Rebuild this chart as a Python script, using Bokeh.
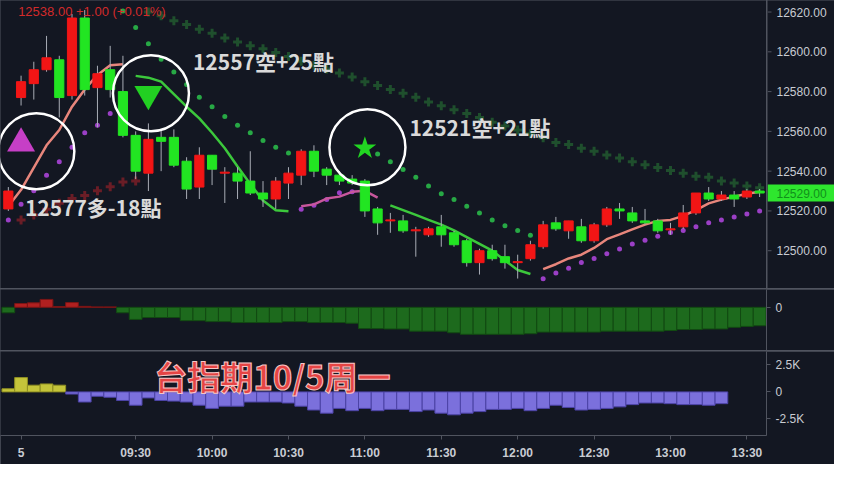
from bokeh.plotting import figure
from bokeh.layouts import column, row
from bokeh.models import ColumnDataSource, FixedTicker, Range1d, Label
from bokeh.core.properties import value
from bokeh.embed import file_html
from bokeh.resources import INLINE

# ---------------- data ----------------
times = ["08:40","08:45","08:50","08:55","09:00","09:05","09:10","09:15","09:20","09:25",
         "09:30","09:35","09:40","09:45","09:50","09:55","10:00","10:05","10:10","10:15",
         "10:20","10:25","10:30","10:35","10:40","10:45","10:50","10:55","11:00","11:05",
         "11:10","11:15","11:20","11:25","11:30","11:35","11:40","11:45","11:50","11:55",
         "12:00","12:05","12:10","12:15","12:20","12:25","12:30","12:35","12:40","12:45",
         "12:50","12:55","13:00","13:05","13:10","13:15","13:20","13:25","13:30","13:35"]

opens = [12521,12577,12584,12591,12596,12578,12617,12582,12591,12580,
         12558,12539,12557,12557,12545,12532,12548,12539,12539,12535,
         12529,12526,12534,12538,12550,12541,12538,12536,12535,12521,
         12515,12515,12510,12508,12512,12509,12505,12494,12500,12497,
         12494,12496,12502,12514,12510,12512,12505,12513,12521,12519,
         12515,12515,12510.5,12512,12519,12529,12526,12528,12527,12530]
highs = [12532,12588,12595,12608,12598,12619,12621,12593,12603,12598,
         12560,12564,12561,12561,12547,12552,12548,12542,12542,12550,
         12535,12537,12542,12551,12553,12542,12540,12538,12536,12522,
         12519,12518,12512,12512,12518,12510,12506,12501,12503,12503,
         12498,12505,12515,12517,12515,12516,12514,12522,12524,12522,
         12521,12516,12514,12523,12529,12532,12530,12530,12531,12531]
lows = [12520,12573,12576,12590,12567,12576,12578,12562,12577,12557,
        12536,12530,12540,12542,12526,12526,12533,12524,12526,12528,
        12522,12521,12526,12533,12537,12533,12533,12533,12517,12508,
        12509,12509,12497,12507,12502,12502,12492,12488,12495,12491,
        12486,12495,12501,12510,12506,12504,12504,12512,12516,12514,
        12513,12509,12508,12511,12518,12525,12525,12522,12526,12527]
closes = [12530,12585,12591,12597,12577,12617,12581,12589,12581,12558,
          12540,12556,12555,12543,12531,12548,12541,12539.5,12535,12529,
          12526,12535,12539,12550,12540,12538,12535,12534,12520,12514,
          12515.5,12510,12510.5,12511,12508,12503,12494,12500,12496,12494,
          12494.5,12503,12513,12511,12515,12505,12513,12521,12520,12515,
          12514,12510,12511,12519,12529,12526,12528,12526,12530,12529]

# trend lines (segments: start time + values)
salmon1_start, salmon1 = "08:40", [12522.3,12530.6,12541.8,12553.0,12560.7,12572.4,12581.1,12588.4,12593.3,12593.8]
salmon2_start, salmon2 = "12:10", [12490.7,12493.2,12496.1,12498.0,12501.4,12505.8,12508.2,12510.7,12513.1,
                                   12515.0,12515.5,12517.5,12520.4,12523.8,12525.7,12527.2,12528.6,12529.6]
green1_start, green1 = "09:30", [12587.9,12587.0,12585.0,12578.7,12572.4,12566.5,12559.3,12551.5,12542.3,
                                 12533.5,12525.2,12520.4,12519.9]
pink_start, pink = "10:35", [12522.3,12523.3,12526.2,12527.2,12529.6,12530.1,12526.7]
green2_start, green2 = "11:10", [12522.8,12520.4,12518.0,12515.5,12513.1,12510.2,12506.8,12503.4,12500.0,
                                 12495.1,12490.3,12488.3]

# dot series (SAR-like)
gdot1_start, gdot1 = "09:25", [12620.5,12612.2,12604.0,12596.2,12589.9,12583.6,12577.2,12572.4,12567.5,
                               12563.1,12559.3,12555.4,12552.0,12549.1]
gdot2_start, gdot2 = "11:05", [12548.6,12544.7,12540.8,12536.9,12532.5,12528.6,12525.7,12522.3,12518.9,
                               12515.5,12512.6,12510.2,12507.8]
pdot1_start, pdot1 = "08:40", [12515.5,12523.3,12530.1,12537.9,12544.7,12552.0,12559.3,12563.1,12569.0]
pdot2_start, pdot2 = "10:35", [12520.9,12522.8,12525.7,12529.1,12529.6]
pdot3_start, pdot3 = "12:10", [12485.9,12488.8,12491.2,12494.1,12496.1,12498.5,12500.9,12503.4,12505.3,
                               12507.3,12509.2,12510.2,12512.1,12514.1,12515.5,12517.0,12518.4,12520.0]

# cross series
rcross_start, rcross = "08:45", [12515.5,12518.0,12520.9,12523.8,12526.2,12527.7,12530.1,12532.1,12534.5,12535.0]
gcross_start, gcross = "09:35", [12620.0,12618.1,12615.6,12613.7,12611.3,12609.3,12606.9,12604.9,12603.0,12601.5,
                                 12599.6,12597.6,12595.2,12593.3,12591.3,12589.4,12587.4,12585.0,12583.1,12581.1,
                                 12579.2,12577.2,12574.8,12572.9,12570.9,12569.0,12567.0,12564.6,12562.7,12560.7,
                                 12558.8,12556.8,12554.4,12553.4,12551.5,12550.0,12548.1,12546.6,12544.7,12543.2,
                                 12541.8,12540.3,12538.9,12537.4,12536.9,12535.0,12534.0,12532.5,12531.6]

# signals
sig_times = ["08:45", "09:35", "11:00"]
sig_prices = [12553.9, 12578.7, 12551.5]
sig_markers = ["triangle", "inverted_triangle", "star"]
circle_x = [2.2, 11.2, 28.2]
circle_y = [12550.0, 12579.2, 12552.0]
notes = ["12577多-18點", "12557空+25點", "12521空+21點"]
note_x = [1.3, 14.5, 31.5]
note_y = [12521.8, 12595.2, 12562.2]

# panel 2 histogram
hist2 = [-5.7,4,4.7,8.3,0.8,5,1,0.4,0.4,-5.7,
         -12.7,-10.7,-10.7,-10.7,-14,-14,-15,-15,-16,-16,
         -16,-16,-15,-15,-16,-16,-16,-16.7,-22.3,-22.3,
         -22.7,-22.7,-25,-25,-25,-26.7,-28.3,-28.3,-28.3,-28.3,
         -28.3,-27.7,-26,-26,-26,-26,-26,-25,-25,-25,
         -25,-25,-24.3,-23.3,-23.3,-22.7,-22.7,-21,-20,-19.3]
# panel 3 histogram
hist3 = [290,1325,620,735,620,-205,-940,-410,-500,-795,
         -1236,-560,-795,-855,-940,-1236,-1530,-1325,-1325,-940,
         -940,-940,-1030,-1325,-1680,-1970,-1530,-1740,-1530,-1740,
         -1620,-1620,-1825,-1680,-1970,-2120,-1970,-1825,-1620,-1620,
         -1530,-1740,-1530,-1236,-1440,-1680,-1620,-1530,-1385,-1180,
         -1030,-1030,-1090,-1180,-1180,-1236,-1090]

xtick_times = ["08:45","09:30","10:00","10:30","11:00","11:30","12:00","12:30","13:00","13:30"]
xtick_labels = ["5","09:30","10:00","10:30","11:00","11:30","12:00","12:30","13:00","13:30"]
price_ticks = [12500, 12520, 12540, 12560, 12580, 12600, 12620]
vol_ticks = [-2500, 0, 2500]
vol_labels = ["-2.5K", "0", "2.5K"]
title_text = "台指期10/5周一"
header_text = "12538.00  +1.00 (+0.01%)"

# ---------------- styling ----------------
BG = "#131722"
GRID = "#50545f"
TXT = "#c9ccd3"
UP = "#f21515"
DN = "#22e522"
FRAME_W = 766
SIDE_W = 67

def idx(t):
    return times.index(t)

def seg(start, vals):
    s = idx(start)
    return list(range(s, s + len(vals)))

xs = list(range(len(times)))
xr = Range1d(-0.615, 59.54)

def style_yaxis(ax):
    ax.axis_line_color = GRID
    ax.major_tick_line_color = GRID
    ax.major_tick_out = 4
    ax.major_tick_in = 0
    ax.minor_tick_line_color = None
    ax.major_label_text_color = TXT
    ax.major_label_text_font = "Liberation Sans"
    ax.major_label_text_font_size = "12px"
    ax.major_label_standoff = 5

def make_fig(h, yr, below=False):
    p = figure(width=FRAME_W + 68, height=h, x_range=xr, y_range=yr, output_backend="svg",
               toolbar_location=None, x_axis_location=("below" if below else None),
               y_axis_location="right", min_border_left=0, min_border_right=68,
               min_border_top=0, min_border_bottom=(29 if below else 0),
               background_fill_color=BG, border_fill_color=BG, outline_line_color=None)
    p.grid.visible = False
    style_yaxis(p.yaxis[0])
    return p

# ---- main price panel ----
yr1 = Range1d(12481, 12625.8)
p1 = figure(width=FRAME_W, height=288, x_range=xr, y_range=yr1, output_backend="svg",
            toolbar_location=None, x_axis_location=None, y_axis_location=None,
            min_border_left=0, min_border_right=0, min_border_top=0, min_border_bottom=0,
            background_fill_color=BG, border_fill_color=BG, outline_line_color=None)
p1.grid.visible = False

# crosses
p1.scatter(seg(rcross_start, rcross), rcross, marker="cross", size=9, line_width=3, line_color="#6a1d26")
p1.scatter(seg(gcross_start, gcross), gcross, marker="cross", size=9, line_width=3, line_color="#1f4f2d")
# dots
for st, v in [(gdot1_start, gdot1), (gdot2_start, gdot2)]:
    p1.scatter(seg(st, v), v, marker="circle", size=5, fill_color="#27a845", line_color=None)
for st, v in [(pdot1_start, pdot1), (pdot2_start, pdot2), (pdot3_start, pdot3)]:
    p1.scatter(seg(st, v), v, marker="circle", size=5, fill_color="#9b3fc6", line_color=None)

# lines
p1.line(seg(salmon1_start, salmon1), salmon1, line_color="#e8867c", line_width=2.5)
p1.line(seg(salmon2_start, salmon2), salmon2, line_color="#e8867c", line_width=2.5)
p1.line(seg(green1_start, green1), green1, line_color="#3cc83c", line_width=2.5)
p1.line(seg(green2_start, green2), green2, line_color="#3cc83c", line_width=2.5)
p1.line(seg(pink_start, pink), pink, line_color="#c8579c", line_width=2.5)

# candles
colors = [UP if c >= o else DN for o, c in zip(opens, closes)]
csrc = ColumnDataSource(dict(x=xs, o=opens, h=highs, l=lows, c=closes,
                             top=[max(o, c) for o, c in zip(opens, closes)],
                             bot=[min(o, c) for o, c in zip(opens, closes)],
                             color=colors))
p1.segment(x0="x", y0="l", x1="x", y1="h", source=csrc, line_color="#a9adb6", line_width=1)
p1.vbar(x="x", top="top", bottom="bot", width=0.72, source=csrc, fill_color="color",
        line_color="color", line_width=1)

# signals
sig_x = [idx(t) for t in sig_times]
sig_colors = ["#c63fc6", "#22d022", "#22d622"]
sig_sizes = [28, 28, 24]
for sx, sy, m, col, sz in zip(sig_x, sig_prices, sig_markers, sig_colors, sig_sizes):
    p1.scatter([sx], [sy], marker=m, size=sz, fill_color=col, line_color=None)
p1.scatter(circle_x, circle_y, marker="circle", size=76, fill_color=None,
           line_color="white", line_width=2.5)
for t, nx, ny in zip(notes, note_x, note_y):
    p1.add_layout(Label(x=nx, y=ny, text=t, text_align="left", text_baseline="middle",
                        text_color="#dadada", text_font="Noto Sans CJK TC",
                        text_font_style="bold", text_font_size="21px"))

# header
p1.add_layout(Label(x=0.77, y=12620.2, text=header_text, text_align="left",
                    text_baseline="alphabetic", text_color="#d22a2a",
                    text_font="Liberation Sans", text_font_size="13px"))

# ---- price scale strip (right of the main panel) ----
p1s = figure(width=SIDE_W, height=288, x_range=Range1d(0, SIDE_W), y_range=yr1, output_backend="svg",
             toolbar_location=None, x_axis_location=None, y_axis_location=None,
             min_border_left=0, min_border_right=0, min_border_top=0, min_border_bottom=0,
             background_fill_color=BG, border_fill_color=BG, outline_line_color=None)
p1s.grid.visible = False
p1s.segment(x0=[0] * len(price_ticks), y0=price_ticks, x1=[4] * len(price_ticks), y1=price_ticks,
            line_color=GRID, line_width=1)
p1s.text(x=[9] * len(price_ticks), y=price_ticks, text=[f"{t:.2f}" for t in price_ticks],
         text_color=TXT, text_font=value("Liberation Sans"), text_font_size="12px",
         text_baseline="middle", text_align="left")
# last price tag
p1s.rect(x=[SIDE_W / 2], y=[closes[-1]], width=SIDE_W, height=17, height_units="screen",
         fill_color="#2ee62e", line_color=None)
p1s.text(x=[9], y=[closes[-1]], text=[f"{closes[-1]:.2f}"], text_color="#10901a",
         text_font=value("Liberation Sans"), text_font_size="12px",
         text_baseline="middle", text_align="left")

top_row = row(p1, p1s, spacing=1)

# ---- panel 2 ----
p2 = make_fig(61, Range1d(-45.3, 18.7))
p2.yaxis[0].ticker = FixedTicker(ticks=[0])
c2 = ["#b02020" if v > 0 else "#1d6a1d" for v in hist2]
lc2 = ["#7a1515" if v > 0 else "#124a12" for v in hist2]
p2.vbar(x=xs[:len(hist2)], top=hist2, bottom=0, width=1.0, fill_color=c2, line_color=lc2, line_width=1)

# ---- panel 3 ----
p3 = make_fig(113, Range1d(-4035, 3735), below=True)
p3.yaxis[0].ticker = FixedTicker(ticks=vol_ticks)
p3.yaxis[0].major_label_overrides = {t: l for t, l in zip(vol_ticks, vol_labels)}
c3 = ["#c4c43a" if v > 0 else "#7b70dc" for v in hist3]
lc3 = ["#8f8f22" if v > 0 else "#4c43a6" for v in hist3]
p3.vbar(x=xs[:len(hist3)], top=hist3, bottom=0, width=1.0, fill_color=c3, line_color=lc3, line_width=1)

xa = p3.xaxis[0]
xa.ticker = FixedTicker(ticks=[idx(t) for t in xtick_times])
xa.major_label_overrides = {idx(t): l for t, l in zip(xtick_times, xtick_labels)}
xa.axis_line_color = GRID
xa.major_tick_line_color = GRID
xa.major_tick_out = 4
xa.major_tick_in = 0
xa.minor_tick_line_color = None
xa.major_label_text_color = TXT
xa.major_label_text_font = "Liberation Sans"
xa.major_label_text_font_size = "12px"
xa.major_label_text_font_style = "bold"
xa.major_label_standoff = 6

p3.add_layout(Label(x=11.46, y=1450, text=title_text, text_align="left", text_baseline="middle",
                    text_color="#e64444", text_font="Noto Sans CJK TC", text_font_style="bold",
                    text_font_size="33px", text_outline_color="#f5c6c6"))

layout = column(top_row, p2, p3, spacing=1, styles={"background-color": GRID})

open("out.html", "w").write(file_html(layout, INLINE))
